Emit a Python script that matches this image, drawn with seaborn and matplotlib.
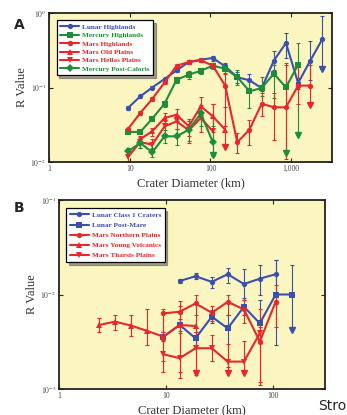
import numpy as np
import pandas as pd
import seaborn as sns
import matplotlib.pyplot as plt

# ---- panel A data (crater diameter bins, km) ----
bins_a = [9.5, 13.5, 19, 27, 38, 54, 76, 107, 152, 215, 304, 431, 609, 861, 1218, 1722, 2435]

lunar_hl = [0.053, 0.076, 0.100, 0.130, 0.170, 0.220, 0.236, 0.249, 0.192, 0.137, 0.125, 0.098, 0.229, 0.396, 0.115, 0.229, 0.448]
lunar_hl_hi = [0.056, 0.080, 0.105, 0.136, 0.178, 0.232, 0.250, 0.268, 0.215, 0.160, 0.150, 0.108, 0.310, 0.540, 0.135, 0.420, 0.900]
lunar_hl_lo = [0.050, 0.072, 0.095, 0.124, 0.162, 0.208, 0.222, 0.230, 0.170, 0.115, 0.100, 0.090, 0.170, 0.250, 0.095, 0.125, 0.175]
lunar_hl_arrow = [16]

merc_hl = [0.0253, 0.0253, 0.0382, 0.0607, 0.1274, 0.1486, 0.168, 0.196, 0.179, 0.138, 0.0889, 0.0984, 0.153, 0.1005, 0.2025]
merc_hl_hi = [0.027, 0.027, 0.041, 0.066, 0.14, 0.165, 0.185, 0.215, 0.205, 0.172, 0.127, 0.14, 0.20, 0.20, 0.395]
merc_hl_lo = [0.0235, 0.0235, 0.035, 0.055, 0.115, 0.132, 0.152, 0.178, 0.155, 0.109, 0.053, 0.076, 0.072, 0.0133, 0.0233]
merc_hl_arrow = [13, 14]

mars_hl = [0.0277, 0.0455, 0.0701, 0.117, 0.196, 0.220, 0.232, 0.196, 0.106, 0.0184, 0.0272, 0.0607, 0.0542, 0.0542, 0.106, 0.106]
mars_hl_hi = [0.029, 0.048, 0.074, 0.123, 0.205, 0.232, 0.245, 0.21, 0.15, 0.0245, 0.037, 0.084, 0.084, 0.21, 0.20, 0.20]
mars_hl_lo = [0.0265, 0.043, 0.066, 0.111, 0.187, 0.208, 0.219, 0.182, 0.030, 0.0133, 0.0171, 0.041, 0.020, 0.011, 0.06, 0.059]
mars_hl_arrow = [15]

mars_old = [0.0204, 0.0258, 0.0390, 0.0432, 0.0301, 0.0559, 0.0410, 0.0272]
mars_old_hi = [0.0225, 0.029, 0.045, 0.052, 0.038, 0.075, 0.060, 0.055]
mars_old_lo = [0.0185, 0.0225, 0.033, 0.035, 0.022, 0.040, 0.025, 0.0158]
mars_old_arrow = [7]

mars_hellas = [0.0117, 0.0185, 0.0171, 0.0301, 0.0351, 0.0267, 0.0390, 0.0258]
mars_hellas_hi = [0.0135, 0.0215, 0.0205, 0.036, 0.043, 0.036, 0.055, 0.060]
mars_hellas_lo = [0.010, 0.0155, 0.014, 0.024, 0.028, 0.018, 0.025, 0.012]
mars_hellas_arrow = []

merc_pc = [0.0139, 0.0180, 0.0135, 0.0221, 0.0221, 0.0272, 0.0448, 0.0184]
merc_pc_hi = [0.0155, 0.0205, 0.0155, 0.027, 0.028, 0.036, 0.058, 0.030]
merc_pc_lo = [0.0125, 0.0155, 0.0115, 0.018, 0.017, 0.019, 0.030, 0.0125]
merc_pc_arrow = [7]

# ---- panel B data ----
bins_b = [2.38, 3.36, 4.76, 6.73, 9.5, 13.5, 19, 27, 38, 54, 76, 107, 152]

lunar_c1 = [0.0139, 0.0156, 0.0136, 0.0164, 0.0129, 0.0147, 0.0164]
lunar_c1_hi = [0.0145, 0.0170, 0.0153, 0.0190, 0.0188, 0.0204, 0.0230]
lunar_c1_lo = [0.0133, 0.0145, 0.0118, 0.0133, 0.0087, 0.0098, 0.0080]

lunar_pm = [0.00358, 0.00476, 0.00344, 0.00582, 0.00438, 0.00742, 0.00495, 0.0100, 0.0100]
lunar_pm_hi = [0.0040, 0.0055, 0.0040, 0.0068, 0.0060, 0.0091, 0.0087, 0.0230, 0.0205]
lunar_pm_lo = [0.0032, 0.0041, 0.0029, 0.0050, 0.0017, 0.0060, 0.0033, 0.0029, 0.0042]
lunar_pm_arrow = [8]

mars_np = [0.00631, 0.00657, 0.00804, 0.00641, 0.00837, 0.00695, 0.00318, 0.00837]
mars_np_hi = [0.0070, 0.0085, 0.0098, 0.0075, 0.0100, 0.0087, 0.0045, 0.0125]
mars_np_lo = [0.0040, 0.0045, 0.0060, 0.0052, 0.0060, 0.0050, 0.0012, 0.0045]

mars_yv = [0.00476, 0.00516, 0.00468, 0.00411, 0.00358, 0.00476, 0.00464]
mars_yv_hi = [0.0056, 0.0061, 0.0061, 0.0071, 0.0066, 0.0075, 0.0080]
mars_yv_lo = [0.0040, 0.0042, 0.0036, 0.0029, 0.0020, 0.0013, 0.0014]

mars_th = [0.00233, 0.00212, 0.00270, 0.00270, 0.00195, 0.00195, 0.00388]
mars_th_hi = [0.0033, 0.0039, 0.0040, 0.0037, 0.0030, 0.0032, 0.0070]
mars_th_lo = [0.0015, 0.0015, 0.00147, 0.0020, 0.00147, 0.00147, 0.0011]
mars_th_arrow = [2, 4, 5]

BLUE = "#3b4fb0"
GREEN = "#1f8c3c"
RED = "#e8262b"
BG = "#fbf6bf"

sns.set_style("ticks")
plt.rcParams["font.family"] = ["Liberation Serif", "DejaVu Serif"]
plt.rcParams["mathtext.fontset"] = "stix"

# (name, x, y, lo, hi, arrows, color, marker, markersize)
series_a = [
    ("Lunar Highlands", bins_a, lunar_hl, lunar_hl_lo, lunar_hl_hi, lunar_hl_arrow, BLUE, "o"),
    ("Mercury Highlands", bins_a[:15], merc_hl, merc_hl_lo, merc_hl_hi, merc_hl_arrow, GREEN, "s"),
    ("Mars Highlands", bins_a[:16], mars_hl, mars_hl_lo, mars_hl_hi, mars_hl_arrow, RED, "o"),
    ("Mars Old Plains", bins_a[1:9], mars_old, mars_old_lo, mars_old_hi, mars_old_arrow, RED, "^"),
    ("Mars Hellas Plains", bins_a[:8], mars_hellas, mars_hellas_lo, mars_hellas_hi, mars_hellas_arrow, RED, "v"),
    ("Mercury Post-Caloris", bins_a[:8], merc_pc, merc_pc_lo, merc_pc_hi, merc_pc_arrow, GREEN, "D"),
]
series_b = [
    ("Lunar Class 1 Craters", bins_b[5:12], lunar_c1, lunar_c1_lo, lunar_c1_hi, [], BLUE, "o"),
    ("Lunar Post-Mare", bins_b[4:13], lunar_pm, lunar_pm_lo, lunar_pm_hi, lunar_pm_arrow, BLUE, "s"),
    ("Mars Northern Plains", bins_b[4:12], mars_np, mars_np_lo, mars_np_hi, [], RED, "o"),
    ("Mars Young Volcanics", bins_b[:7], mars_yv, mars_yv_lo, mars_yv_hi, [], RED, "^"),
    ("Mars Tharsis Plains", bins_b[4:11], mars_th, mars_th_lo, mars_th_hi, mars_th_arrow, RED, "v"),
]


def draw_panel(ax, series, xlim, ylim, yticks, ylabels, xticks, xlabels, spacing):
    frames = []
    for name, x, y, *_ in series:
        frames.append(pd.DataFrame({"D": x, "R": y, "series": name}))
    df = pd.concat(frames, ignore_index=True)
    names = [s[0] for s in series]
    palette = {s[0]: s[6] for s in series}
    markers = {s[0]: s[7] for s in series}

    # error bars and upper-limit arrows first so lines sit on top
    for name, x, y, lo, hi, arrows, color, marker in series:
        x = np.array(x)
        y = np.array(y)
        lo = np.array(lo)
        hi = np.array(hi)
        ax.errorbar(x, y, yerr=[y - lo, hi - y], fmt="none", ecolor=color,
                    elinewidth=0.8, capsize=1.5, capthick=0.8, zorder=2)
        if arrows:
            ax.plot(x[arrows], lo[arrows], linestyle="none", marker="v",
                    markersize=5, color=color, zorder=3)

    sns.lineplot(data=df, x="D", y="R", hue="series", style="series",
                 hue_order=names, style_order=names, palette=palette,
                 markers=markers, dashes=False, sort=False, estimator=None,
                 linewidth=1.5, markersize=3.8, markeredgewidth=0,
                 ax=ax, zorder=4)

    ax.set_xscale("log")
    ax.set_yscale("log")
    ax.set_xlim(*xlim)
    ax.set_ylim(*ylim)
    ax.set_facecolor(BG)
    ax.set_xticks(xticks)
    ax.set_xticklabels(xlabels)
    ax.set_yticks(yticks)
    ax.set_yticklabels(ylabels)
    ax.minorticks_off()
    ax.tick_params(direction="in", length=3, width=0.8, labelsize=5.5,
                   labelcolor="#444444", top=True, right=True, pad=2)
    for sp in ax.spines.values():
        sp.set_linewidth(1.3)
        sp.set_color("#222222")
        sp.set_visible(True)
    ax.set_xlabel("Crater Diameter (km)", fontsize=9, color="#333333", labelpad=3)
    ax.set_ylabel("R Value", fontsize=9, color="#333333", labelpad=2)

    leg = ax.legend(loc="upper left", bbox_to_anchor=(0.014, 0.975),
                    frameon=True, fancybox=False, shadow=True, edgecolor="black",
                    handlelength=2.6, handletextpad=0.4, labelspacing=spacing,
                    borderpad=0.5, prop={"weight": "bold", "size": 5.2})
    leg.get_frame().set_linewidth(0.9)
    leg.get_frame().set_facecolor("white")
    for text, s in zip(leg.get_texts(), series):
        text.set_color(s[6])


fig = plt.figure(figsize=(3.47, 4.15), dpi=100)
W, H = 347, 415
ax_a = fig.add_axes([49 / W, 1 - 162 / H, (332 - 49) / W, (162 - 13) / H])
ax_b = fig.add_axes([59 / W, 1 - 389 / H, (325 - 59) / W, (389 - 200) / H])

draw_panel(ax_a, series_a, (1, 3200), (0.01, 1),
           [0.01, 0.1, 1], [r"$10^{-2}$", r"$10^{-1}$", r"$10^{0}$"],
           [1, 10, 100, 1000], ["1", "10", "100", "1,000"], 0.32)
draw_panel(ax_b, series_b, (1, 310), (0.001, 0.1),
           [0.001, 0.01, 0.1], [r"$10^{-3}$", r"$10^{-2}$", r"$10^{-1}$"],
           [1, 10, 100], ["1", "10", "100"], 0.55)

fig.text(14 / W, 1 - 25 / H, "A", fontsize=10, fontweight="bold",
         family="DejaVu Sans", va="center", ha="left")
fig.text(14 / W, 1 - 208 / H, "B", fontsize=10, fontweight="bold",
         family="DejaVu Sans", va="center", ha="left")
fig.text(346 / W, 1 - 406 / H, "Stro", fontsize=10, family="DejaVu Sans",
         va="center", ha="right")

fig.savefig("out.png", dpi=100, facecolor="white")
